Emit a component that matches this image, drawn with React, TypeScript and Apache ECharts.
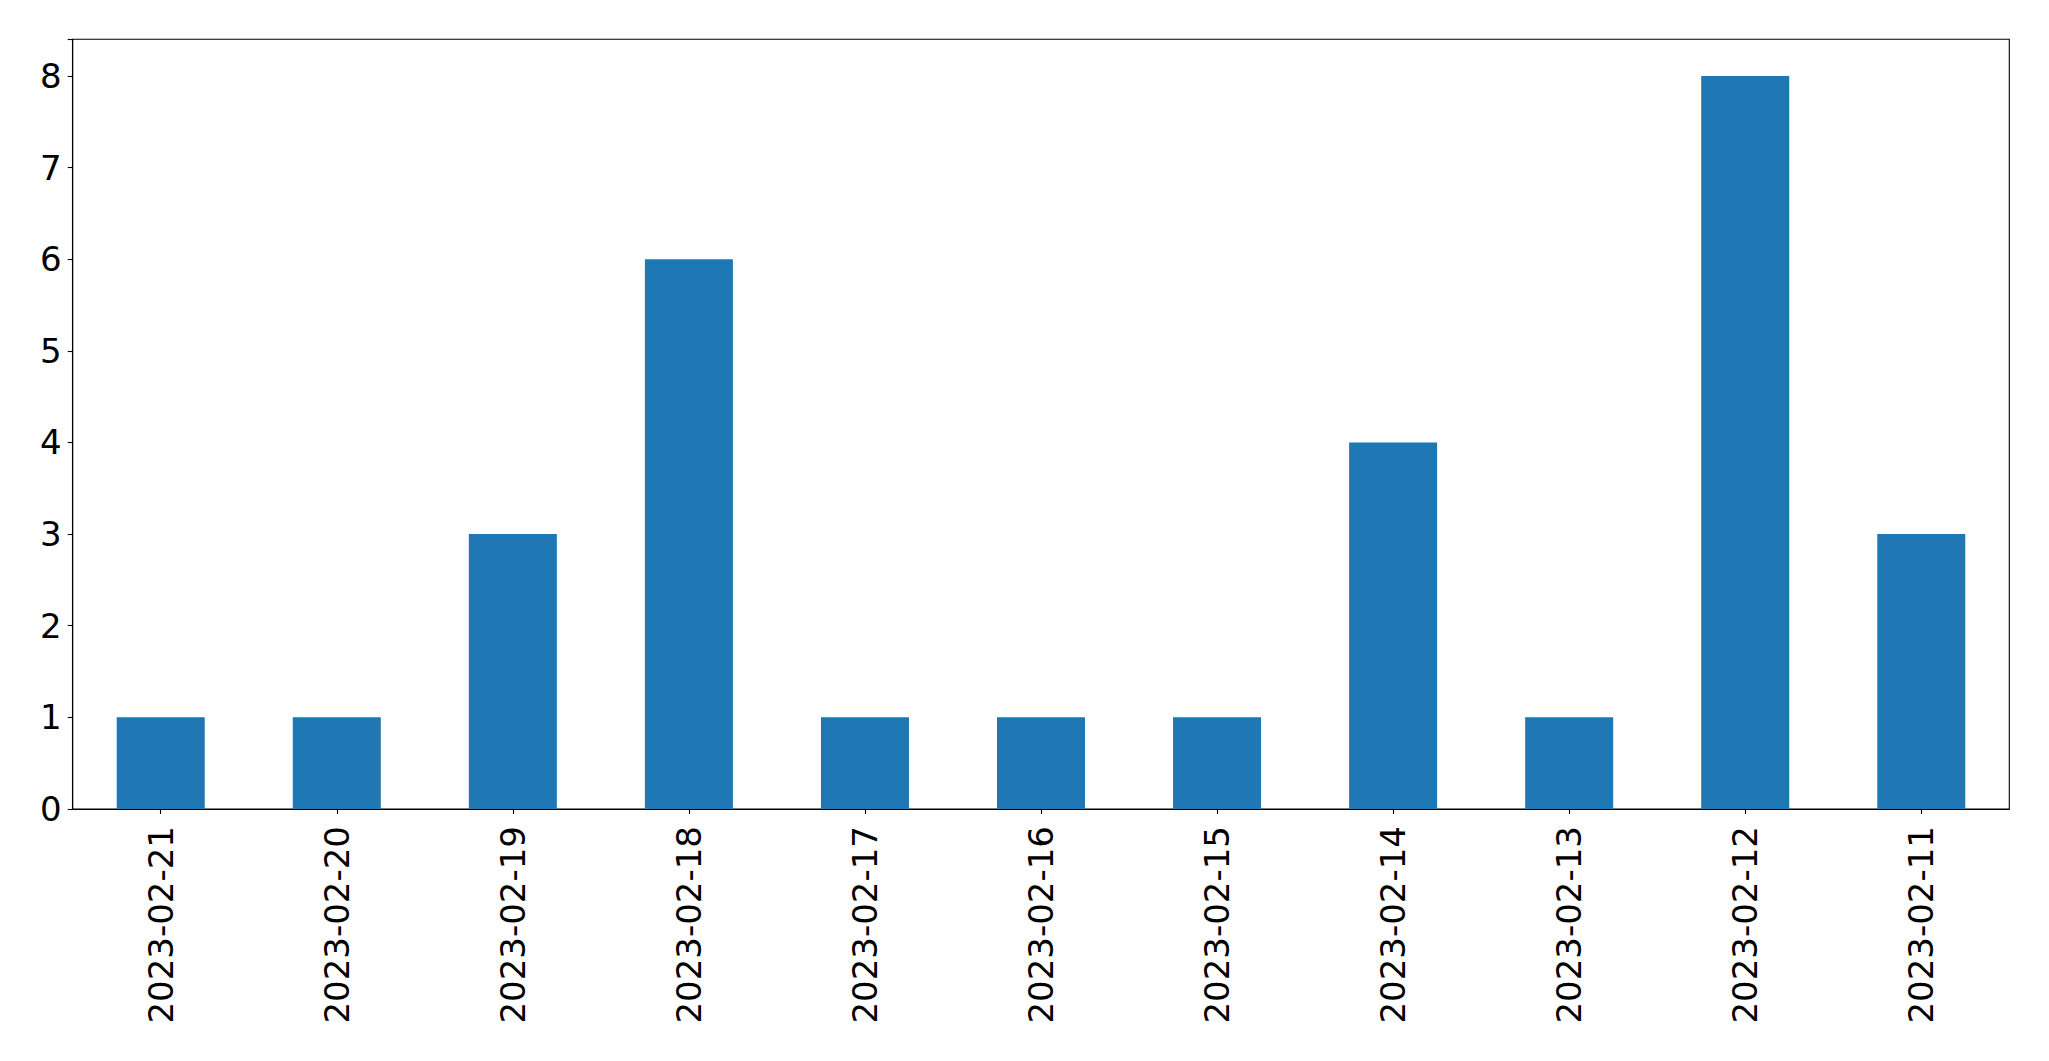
import React, { useEffect, useRef } from "react";
import * as echarts from "echarts";

const categories = [
  "2023-02-21", "2023-02-20", "2023-02-19", "2023-02-18", "2023-02-17", "2023-02-16",
  "2023-02-15", "2023-02-14", "2023-02-13", "2023-02-12", "2023-02-11",
];
const values = [1, 1, 3, 6, 1, 1, 1, 4, 1, 8, 3];
const yTicks = [0, 1, 2, 3, 4, 5, 6, 7, 8];

export default function App() {
  const ref = useRef<HTMLDivElement>(null);
  useEffect(() => {
    if (!ref.current) return;
    const chart = echarts.init(ref.current, null, { renderer: "svg" });
    const font = "DejaVu Sans";
    chart.setOption({
      animation: false,
      backgroundColor: "#ffffff",
      grid: {
        left: 72.7,
        right: 39.7,
        top: 39.3,
        bottom: 252,
        show: true,
        borderColor: "#000000",
        borderWidth: 1.1,
        backgroundColor: "transparent",
      },
      xAxis: {
        type: "category",
        data: categories,
        boundaryGap: true,
        axisLine: { show: true, lineStyle: { color: "#000000", width: 1.1 } },
        axisTick: { show: true, alignWithLabel: true, length: 5, lineStyle: { color: "#000000", width: 1.1 } },
        axisLabel: {
          rotate: 90,
          margin: 17,
          fontFamily: font,
          fontSize: 34,
          color: "#000000",
          interval: 0,
        },
        splitLine: { show: false },
      },
      yAxis: {
        type: "value",
        min: 0,
        max: 8.4,
        interval: 1,
        axisLine: { show: true, lineStyle: { color: "#000000", width: 1.1 } },
        axisTick: { show: true, length: 5, lineStyle: { color: "#000000", width: 1.1 } },
        axisLabel: {
          margin: 11,
          fontFamily: font,
          fontSize: 34,
          color: "#000000",
          formatter: (v: number) => (yTicks.includes(v) ? String(v) : ""),
        },
        splitLine: { show: false },
      },
      series: [
        {
          type: "bar",
          data: values,
          barWidth: "50%",
          itemStyle: { color: "#1f77b4" },
        },
      ],
    });
    return () => chart.dispose();
  }, []);
  return (
    <div
      ref={ref}
      style={{ position: "fixed", left: 0, top: 0, width: 2049, height: 1061, background: "#fff" }}
    />
  );
}
